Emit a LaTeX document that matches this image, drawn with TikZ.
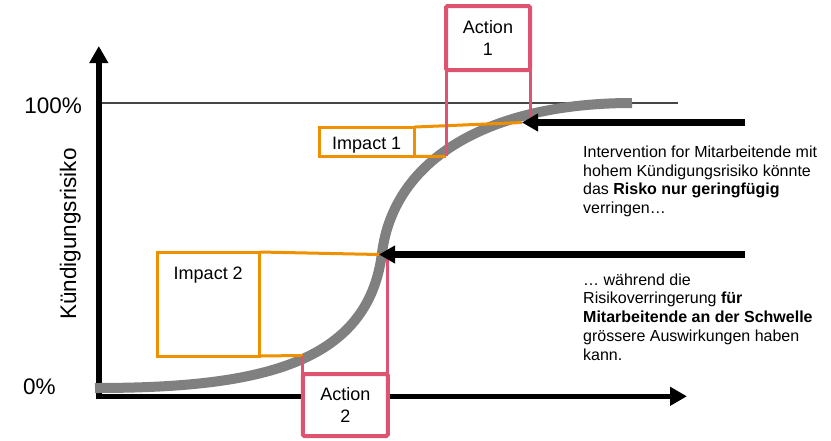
\documentclass[tikz,border=0pt]{standalone}
\usepackage{fontspec}
\setmainfont{Liberation Sans}
\usetikzlibrary{arrows.meta}
\definecolor{pinkc}{RGB}{222,84,112}
\definecolor{orangec}{RGB}{238,144,0}
\definecolor{curvec}{RGB}{128,128,128}
\definecolor{linec}{RGB}{70,70,70}
\begin{document}
\begin{tikzpicture}[x=1pt,y=-1pt,
  actionbox/.style={draw=pinkc, line width=4pt, rounded corners=1.5pt, fill=white, minimum width=85pt, align=center, font=\fontsize{18}{22}\selectfont, inner sep=0pt, outer sep=0pt},
  impactbox/.style={draw=orangec, line width=3pt, inner sep=0pt, outer sep=0pt},
  pinkline/.style={draw=pinkc, line width=3pt},
  orangeline/.style={draw=orangec, line width=3pt},
  bigarrow/.style={line width=6.5pt, -{Triangle[length=16pt,width=17pt]}},
  axisline/.style={line width=5.5pt, -{Triangle[length=17pt,width=18pt]}},
  boxlabel/.style={font=\fontsize{18}{22}\selectfont, inner sep=0pt},
  axislabel/.style={font=\fontsize{22.5}{27}\selectfont, inner sep=0pt},
  body/.style={font=\fontsize{16}{18.8}\selectfont, align=left, inner sep=0pt, anchor=north west}]
\useasboundingbox (0,0) rectangle (831,440);
% 100% line
\coordinate (hl) at (101,103);
\coordinate (hr) at (678,103);
\draw[linec, line width=1.5pt] (hl) -- (hr);
% axes
\coordinate (origin) at (98.8,399.3);
\coordinate (ytip) at (98.8,46);
\coordinate (xstart) at (96,396.3);
\coordinate (xtip) at (687,396.3);
\draw[axisline] (origin) -- (ytip);
\draw[axisline] (xstart) -- (xtip);
% curve
\coordinate (c0) at (95,388);
\coordinate (cm) at (382,253);
\coordinate (c1) at (632,103);
\draw[curvec, line width=10pt] (c0) .. controls (258,388) and (368,365) .. (cm) .. controls (394,158) and (490,103) .. (c1);
% key coordinates
\coordinate (tip1) at (522,122.5);
\coordinate (tip2) at (379,254.5);
\coordinate (p1b) at (446,156.3);
\coordinate (p2b) at (302.8,355.5);
\coordinate (a1r) at (530,118);
\coordinate (a2r) at (387.8,257);
% impact boxes
\node[impactbox, minimum width=94.5pt, minimum height=29.3pt] (imp1) at (366.75,141.7) {};
\node[boxlabel, anchor=base] (imp1t) at (366.75,149.3) {Impact 1};
\draw[orangeline] (imp1.north east) -- (tip1);
\draw[orangeline] (imp1.south east) -- (p1b);
\node[impactbox, minimum width=102.5pt, minimum height=104pt] (imp2) at (208.25,304) {};
\node[boxlabel, anchor=base] (imp2t) at (208.25,279.5) {Impact 2};
\draw[orangeline] (imp2.north east) -- (tip2);
\draw[orangeline] (imp2.south east) -- (p2b);
% action boxes
\node[actionbox, minimum width=84pt, minimum height=64pt] (act1) at (488,38) {Action\\1};
\draw[pinkline] (act1.south west) -- (p1b);
\draw[pinkline] (act1.south east) -- (a1r);
\node[actionbox, minimum height=62pt] (act2) at (345.3,405) {Action\\2};
\draw[pinkline] (p2b) -- (act2.north west);
\draw[pinkline] (a2r) -- (act2.north east);
% arrows
\coordinate (a1s) at (745,122.5);
\coordinate (a2s) at (745,254.5);
\draw[bigarrow] (a1s) -- (tip1);
\draw[bigarrow] (a2s) -- (tip2);
% texts
\node[body] (t1) at (583,145.6) {Intervention for Mitarbeitende mit\\hohem Kündigungsrisiko könnte\\das \textbf{Risko nur geringfügig}\\verringen…};
\node[body] (t2) at (583,273.3) {… während die\\Risikoverringerung \textbf{für}\\\textbf{Mitarbeitende an der Schwelle}\\grössere Auswirkungen haben\\kann.};
% axis labels
\node[axislabel, anchor=base east] (l100) at (82,113) {100\%};
\node[axislabel, anchor=base west] (l0) at (23,394) {0\%};
\node[axislabel, rotate=90, anchor=base] (ylab) at (76,234) {Kündigungsrisiko};
\end{tikzpicture}
\end{document}
